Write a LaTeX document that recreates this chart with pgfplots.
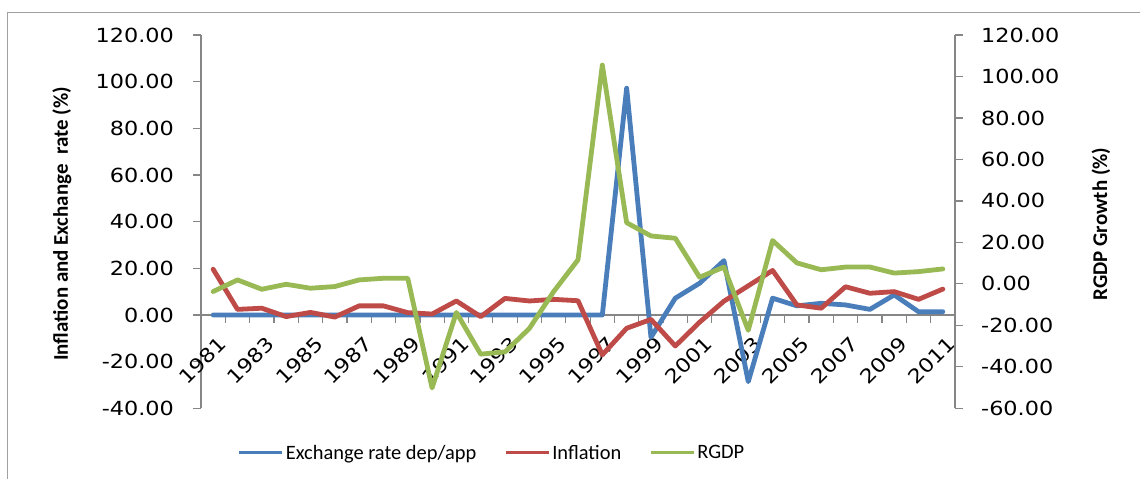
\documentclass[border=0pt]{standalone}
\usepackage{pgfplots}
\pgfplotsset{compat=1.18}
\usepackage{pgfplotstable}
\usepackage{fontspec}
\setmainfont{Carlito}
\newfontfamily\tickfam[FakeStretch=1.15]{DejaVu Sans}
\newcommand\tickfont{\tickfam\fontsize{19.5}{21}\selectfont}
\newcommand\labfont{\bfseries\fontsize{21}{24}\selectfont}
\newcommand\legfont{\fontsize{20.5}{23}\selectfont}
\definecolor{exblue}{HTML}{4A7EBB}
\definecolor{infred}{HTML}{BE4B48}
\definecolor{gdpgreen}{HTML}{98B954}
\definecolor{axgray}{HTML}{868686}
\definecolor{bordergray}{HTML}{A0A0A0}

\pgfplotstableread{
i  year ex    inf   gdp
0  1981 0     19.6  -3.7
1  1982 0     2.4   1.9
2  1983 0     2.9   -2.6
3  1984 0     -0.7  -0.2
4  1985 0     1.1   -2.1
5  1986 0     -0.9  -1.3
6  1987 0     3.9   1.9
7  1988 0     3.9   2.7
8  1989 0     1.0   2.7
9  1990 0     0.4   -50.2
10 1991 0     6.0   -13.8
11 1992 0     -0.7  -33.9
12 1993 0     7.1   -32.8
13 1994 0     6.0   -21.5
14 1995 0     6.7   -3.7
15 1996 0     6.1   11.6
16 1997 0     -17.1 105.5
17 1998 97.2  -5.7  29.5
18 1999 -9.6  -1.9  23.1
19 2000 7.2   -13.3 22.0
20 2001 13.6  -3.1  3.2
21 2002 23.3  5.9   8.1
22 2003 -28.6 12.5  -22.4
23 2004 7.2   19.1  20.9
24 2005 3.9   4.3   10.1
25 2006 5.0   2.9   6.8
26 2007 4.3   12.1  8.1
27 2008 2.4   9.3   8.1
28 2009 8.6   10.0  5.2
29 2010 1.4   6.7   5.9
30 2011 1.4   11.1  7.2
}\data

\begin{document}
\begin{tikzpicture}
\useasboundingbox (0,0) rectangle (1140bp,479bp);
\draw[bordergray, line width=1.2bp] (7.5bp,-5bp) -- (7.5bp,466.3bp) -- (1150bp,466.3bp);
\pgfplotsset{
  common/.style={
    at={(201bp,70.7bp)}, anchor=south west, scale only axis,
    width=754bp, height=373.3bp, xmin=-0.5, xmax=30.5,
    axis line style={axgray, line width=1.2bp},
    tick style={axgray, line width=1.2bp},
    tick align=outside, major tick length=8bp, minor tick length=8bp,
    /pgf/number format/.cd, fixed, fixed zerofill, precision=2, assume math mode=true, /pgfplots/.cd,
    y tick label style={font=\tickfont},
    clip=false,
  },
  ser/.style={line width=4.8bp, line cap=round, line join=round, #1, mark=none},
}
\begin{axis}[common,
  ymin=-40, ymax=120, ytick={-40,-20,...,120},
  axis y line*=left, axis x line*=middle,
  xtick={0,2,...,30},
  xticklabels={1981,1983,1985,1987,1989,1991,1993,1995,1997,1999,2001,2003,2005,2007,2009,2011},
  major x tick style={draw=none},
  minor xtick={-0.5,0.5,...,30.5},
  x tick label style={font=\tickfont, rotate=45, anchor=east, inner sep=0pt, yshift=-19bp, xshift=-6bp},
  y tick label style={anchor=east, inner sep=0pt, xshift=-19bp},
  ylabel={Inflation and Exchange\ \ rate (\%)},
  ylabel style={font=\labfont, at={(axis description cs:-0.1844,0.4937)}, anchor=center},
  legend style={at={(axis description cs:0.386,-0.1197)}, anchor=center, draw=none, fill=none,
    font=\legfont, /tikz/every even column/.append style={column sep=26bp}},
  legend columns=3,
  legend image code/.code={\draw[#1,line width=3bp,line cap=butt] (0bp,0bp) -- (43bp,0bp);},
]
\addplot[ser=exblue] table[x=i,y=ex]{\data};
\addlegendentry{Exchange rate dep/app}
\addplot[ser=infred] table[x=i,y=inf]{\data};
\addlegendentry{Inflation}
\addlegendimage{ser=gdpgreen}
\addlegendentry{RGDP}
\end{axis}
\begin{axis}[common,
  ymin=-60, ymax=120, ytick={-60,-40,...,120},
  axis y line*=right, axis x line=none,
  y tick label style={anchor=west, inner sep=0pt, xshift=18bp},
  ylabel={RGDP Growth (\%)},
  ylabel style={font=\labfont, at={(axis description cs:1.1936,0.4937)}, anchor=center},
]
\addplot[ser=gdpgreen] table[x=i,y=gdp]{\data};
\end{axis}
\end{tikzpicture}
\end{document}
